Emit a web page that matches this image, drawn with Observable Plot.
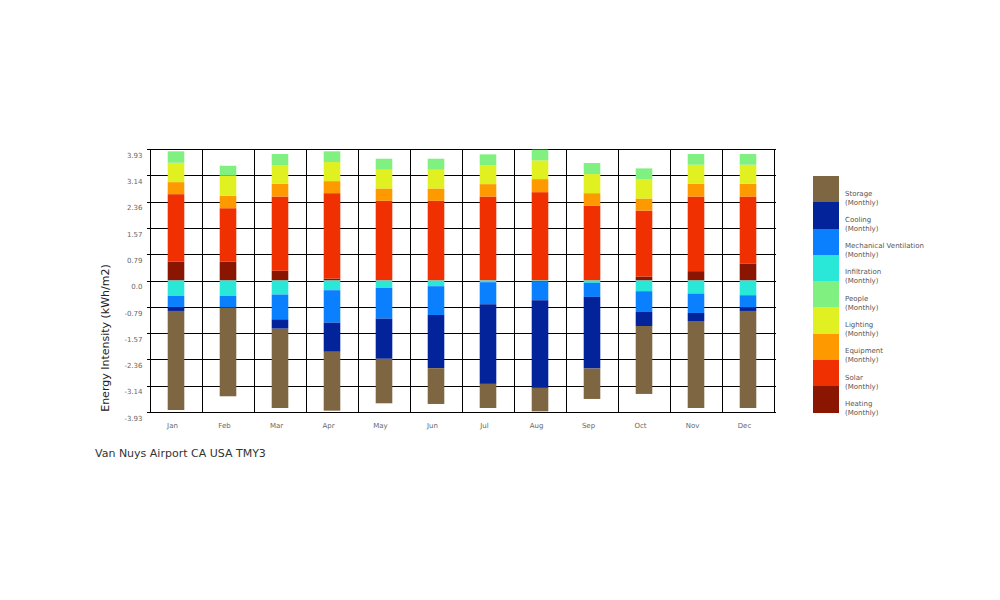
<!DOCTYPE html>
<html>
<head>
<meta charset="utf-8">
<script src="https://cdn.jsdelivr.net/npm/d3@7"></script>
<script src="https://cdn.jsdelivr.net/npm/@observablehq/plot@0.6"></script>
<style>
  body { margin: 0; background: white; font-family: "DejaVu Sans", Verdana, sans-serif; }
  #wrap { position: relative; width: 1000px; height: 600px; overflow: hidden; }
  #chart { position: absolute; left: 0; top: 0; }
  #ylabel { position: absolute; left: 104.5px; top: 338px; transform: translate(-50%, -50%) rotate(-90deg);
            white-space: nowrap; font-size: 11px; color: #222; }
  #title { position: absolute; left: 95px; top: 447px; font-size: 11px; color: #333; white-space: nowrap; }
  #legend { position: absolute; left: 813px; top: 176px; }
  .item { position: relative; height: 26.3px; }
  .sw { position: absolute; left: 0; top: 0; width: 26px; height: 26.3px; }
  .lab { position: absolute; left: 32px; top: 13.5px; font-size: 7px; line-height: 9px; color: #555; white-space: nowrap; }
</style>
</head>
<body>
<div id="wrap">
  <div id="chart"></div>
  <div id="ylabel">Energy Intensity (kWh/m2)</div>
  <div id="title">Van Nuys Airport CA USA TMY3</div>
  <div id="legend"></div>
</div>
<script>
const months = ["Jan","Feb","Mar","Apr","May","Jun","Jul","Aug","Sep","Oct","Nov","Dec"];

const heating      = [0.56, 0.56, 0.29, 0.06, 0.00, 0.00, 0.00, 0.00, 0.00, 0.12, 0.28, 0.51];
const solar        = [2.02, 1.60, 2.22, 2.55, 2.38, 2.38, 2.51, 2.64, 2.24, 1.97, 2.23, 2.00];
const equipment    = [0.36, 0.37, 0.38, 0.36, 0.37, 0.37, 0.37, 0.39, 0.37, 0.36, 0.38, 0.38];
const lighting     = [0.58, 0.61, 0.56, 0.57, 0.56, 0.56, 0.56, 0.56, 0.57, 0.58, 0.57, 0.57];
const people       = [0.34, 0.29, 0.33, 0.32, 0.33, 0.33, 0.33, 0.32, 0.33, 0.32, 0.32, 0.32];
const infiltration = [-0.46, -0.46, -0.42, -0.29, -0.22, -0.17, -0.05, -0.02, -0.07, -0.32, -0.39, -0.44];
const mechVent     = [-0.33, -0.35, -0.74, -0.97, -0.92, -0.86, -0.66, -0.57, -0.42, -0.62, -0.58, -0.37];
const cooling      = [-0.12, -0.01, -0.28, -0.87, -1.20, -1.59, -2.38, -2.62, -2.14, -0.42, -0.24, -0.10];
const storage      = [-2.96, -2.64, -2.37, -1.76, -1.33, -1.07, -0.72, -0.70, -0.91, -2.03, -2.60, -2.90];

const seriesNames  = ["Heating","Solar","Equipment","Lighting","People","Infiltration","Mechanical Ventilation","Cooling","Storage"];
const seriesValues = [heating, solar, equipment, lighting, people, infiltration, mechVent, cooling, storage];
const seriesColors = ["#8a1500","#f03000","#ff9900","#e0f020","#80f080","#29e8d8","#0a80ff","#03239b","#7f6642"];

const tickLabels = ["-3.93","-3.14","-2.36","-1.57","-0.79","0.0","0.79","1.57","2.36","3.14","3.93"];
const tickValues = tickLabels.map(Number);

const data = seriesNames.flatMap((s, i) =>
  months.map((m, j) => ({month: m, series: s, value: seriesValues[i][j]})));

const chart = Plot.plot({
  width: 1000,
  height: 600,
  marginLeft: 147,
  marginRight: 224,
  marginTop: 149,
  marginBottom: 188,
  style: {fontFamily: "DejaVu Sans, Verdana, sans-serif", fontSize: "7px", background: "white"},
  x: {type: "band", domain: months, padding: 0},
  y: {domain: [-3.93, 3.93], ticks: tickValues},
  color: {domain: seriesNames, range: seriesColors},
  marks: [
    Plot.gridY(tickValues, {stroke: "black", strokeOpacity: 1, strokeWidth: 1, shapeRendering: "crispEdges"}),
    Plot.cell(months, {x: d => d, fill: "none", stroke: "black", strokeWidth: 1, shapeRendering: "crispEdges"}),
    Plot.barY(data, {x: "month", y: "value", fill: "series", order: null, insetLeft: 17.7, insetRight: 17.7}),
    Plot.axisY(tickValues, {tickSize: 0, tickPadding: 5, dy: 6, fill: "#666", label: null,
      tickFormat: (d, i) => tickLabels[i]}),
    Plot.axisX(months, {tickSize: 0, tickPadding: 11, dx: -4, fill: "#666", label: null})
  ]
});
document.getElementById("chart").appendChild(chart);

const legend = document.getElementById("legend");
seriesNames.slice().reverse().forEach((s) => {
  const idx = seriesNames.indexOf(s);
  const item = document.createElement("div");
  item.className = "item";
  item.innerHTML = `<div class="sw" style="background:${seriesColors[idx]}"></div><div class="lab">${s}<br>(Monthly)</div>`;
  legend.appendChild(item);
});
</script>
</body>
</html>
